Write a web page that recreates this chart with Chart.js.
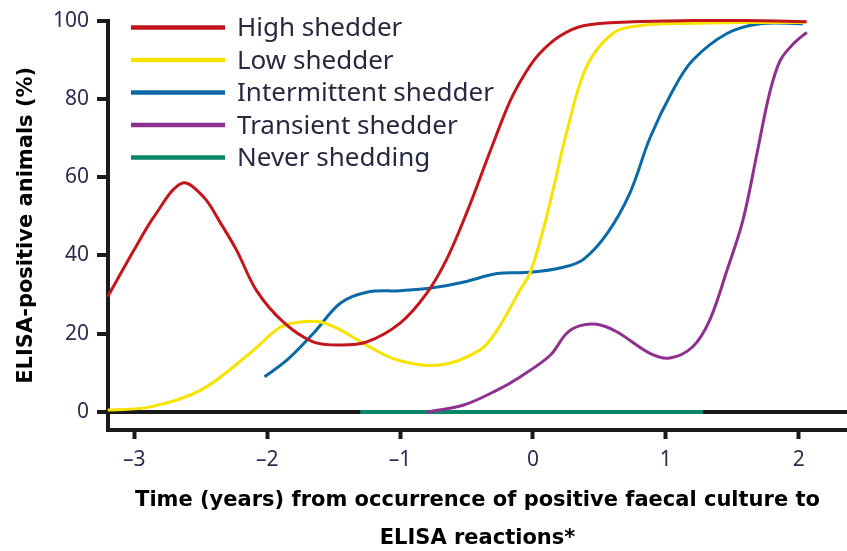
<!DOCTYPE html>
<html><head><meta charset="utf-8">
<style>html,body{margin:0;padding:0;background:#fff;}#wrap{width:847px;height:551px;}</style>
<script src="https://cdn.jsdelivr.net/npm/chart.js@4.4.1/dist/chart.umd.min.js"></script>
</head><body><div id="wrap"><canvas id="c" width="847" height="551"></canvas></div>
<script>
// ---- data ----
const seriesNames = ['High shedder', 'Low shedder', 'Intermittent shedder', 'Transient shedder', 'Never shedding'];
const highX = [-3.2, -3.0, -2.85, -2.64, -2.48, -2.35, -2.23, -2.08, -1.88, -1.66, -1.45, -1.25, -1.0, -0.8, -0.65, -0.5, -0.32, -0.17, -0.05, 0.05, 0.2, 0.38, 0.75, 1.2, 1.6, 2.06];
const highY = [29.5, 41.5, 50, 58.5, 55, 48.2, 41.3, 31, 23, 18, 17.1, 17.9, 22.7, 30.3, 39, 50.8, 66.8, 79.6, 87, 91.6, 96, 98.7, 99.7, 100, 100, 99.7];
const lowX = [-3.2, -2.88, -2.5, -2.13, -1.9, -1.75, -1.6, -1.45, -1.28, -1.02, -0.7, -0.4, -0.27, -0.1, -0.02, 0.08, 0.16, 0.25, 0.4, 0.6, 0.8, 1.2, 1.6, 2.05];
const lowY = [0.5, 1.3, 5.6, 15, 21.7, 23, 23, 21, 17.6, 13.3, 12, 15.8, 20.9, 31, 35.7, 47, 58, 71, 88, 96.7, 98.7, 99.3, 99.5, 99.5];
const interX = [-2.02, -1.85, -1.65, -1.45, -1.25, -1.0, -0.78, -0.52, -0.27, -0.02, 0.23, 0.38, 0.56, 0.73, 0.88, 1.05, 1.2, 1.46, 1.71, 2.03];
const interY = [9, 13.3, 20.2, 27.8, 30.6, 31, 31.6, 33.2, 35.4, 35.7, 37, 39, 45.7, 56, 70, 82, 89.8, 96.7, 99.2, 99.2];
const transX = [-0.8, -0.52, -0.27, -0.1, 0.13, 0.25, 0.35, 0.48, 0.63, 0.88, 1.03, 1.2, 1.33, 1.46, 1.58, 1.69, 1.78, 1.86, 1.96, 2.06];
const transY = [0, 1.8, 5.6, 8.9, 14.5, 20, 22, 22.4, 20.5, 15, 13.8, 16.6, 23.5, 36.2, 49, 66.8, 81.4, 89.8, 94.1, 97];
const neverX = [-1.3, 1.28];
const neverY = [0, 0];
const xTicks = [-3, -2, -1, 0, 1, 2];
const yTicks = [0, 20, 40, 60, 80, 100];
const xTitle = ['Time (years) from occurrence of positive faecal culture to', 'ELISA reactions*'];
const yTitle = 'ELISA-positive animals (%)';
const colors = ['#c3161c', '#f6e400', '#0b69a6', '#8d308f', '#0c8669'];

const toPts = (xs, ys) => xs.map((x, i) => ({x: x, y: ys[i]}));
const allX = [highX, lowX, interX, transX, neverX];
const allY = [highY, lowY, interY, transY, neverY];

const datasets = seriesNames.map((name, i) => ({
  label: name,
  data: toPts(allX[i], allY[i]),
  borderColor: colors[i],
  backgroundColor: colors[i],
  borderWidth: i === 4 ? 4 : 3,
  pointRadius: 0,
  fill: false,
  tension: 0.35,
  clip: false
}));

const insetLegend = {
  id: 'insetLegend',
  afterDatasetsDraw(chart) {
    const ctx = chart.ctx;
    const a = chart.chartArea;
    ctx.save();
    chart.data.datasets.forEach((ds, i) => {
      const y = a.top + 7 + i * 32.5;
      ctx.strokeStyle = ds.borderColor;
      ctx.lineWidth = 4.5;
      ctx.lineCap = 'butt';
      ctx.beginPath();
      ctx.moveTo(a.left + 23, y);
      ctx.lineTo(a.left + 117, y);
      ctx.stroke();
      ctx.fillStyle = '#27293f';
      ctx.font = '26px "Noto Sans"';
      ctx.textBaseline = 'middle';
      ctx.textAlign = 'left';
      ctx.fillText(ds.label, a.left + 129, y + 1);
    });
    ctx.restore();
  }
};

const tickFont = {family: 'Noto Sans', size: 21};
const titleFont = {family: 'DejaVu Sans', weight: 'bold', size: 21};

new Chart(document.getElementById('c'), {
  type: 'line',
  data: {datasets: datasets},
  options: {
    responsive: false,
    devicePixelRatio: 1,
    animation: false,
    layout: {padding: {top: 20, right: 0, left: 0, bottom: 0}},
    plugins: {legend: {display: false}, tooltip: {enabled: false}},
    scales: {
      x: {
        type: 'linear',
        min: -3.198, max: 2.363,
        afterBuildTicks: s => { s.ticks = xTicks.map(v => ({value: v})); },
        afterFit: s => { s.height = 121; },
        border: {display: true, color: '#1a1a1a', width: 4},
        grid: {drawOnChartArea: false, drawTicks: true, tickLength: 9, tickColor: '#1a1a1a', tickWidth: 4},
        ticks: {color: '#2b2d4f', font: tickFont, padding: 8, maxRotation: 0,
          callback: v => String(v).replace('-', '\u2013')},
        title: {display: true, text: xTitle, color: '#000',
          font: Object.assign({lineHeight: 1.81}, titleFont), padding: {top: 0, bottom: -7}}
      },
      y: {
        type: 'linear',
        min: -4.6, max: 100,
        afterBuildTicks: s => { s.ticks = yTicks.map(v => ({value: v})); },
        afterFit: s => { s.width = 108; },
        border: {display: true, color: '#1a1a1a', width: 4},
        grid: {
          drawOnChartArea: true, drawTicks: true, tickLength: 11, tickColor: '#1a1a1a', tickWidth: 4,
          color: c => (c.tick && c.tick.value === 0) ? '#1a1a1a' : 'rgba(0,0,0,0)',
          lineWidth: c => (c.tick && c.tick.value === 0) ? 4 : 0
        },
        ticks: {color: '#2b2d4f', font: tickFont, padding: 8},
        title: {display: true, text: yTitle, color: '#000', font: titleFont, padding: {top: 14, bottom: 0}}
      }
    }
  },
  plugins: [insetLegend]
});
</script>
</body></html>
